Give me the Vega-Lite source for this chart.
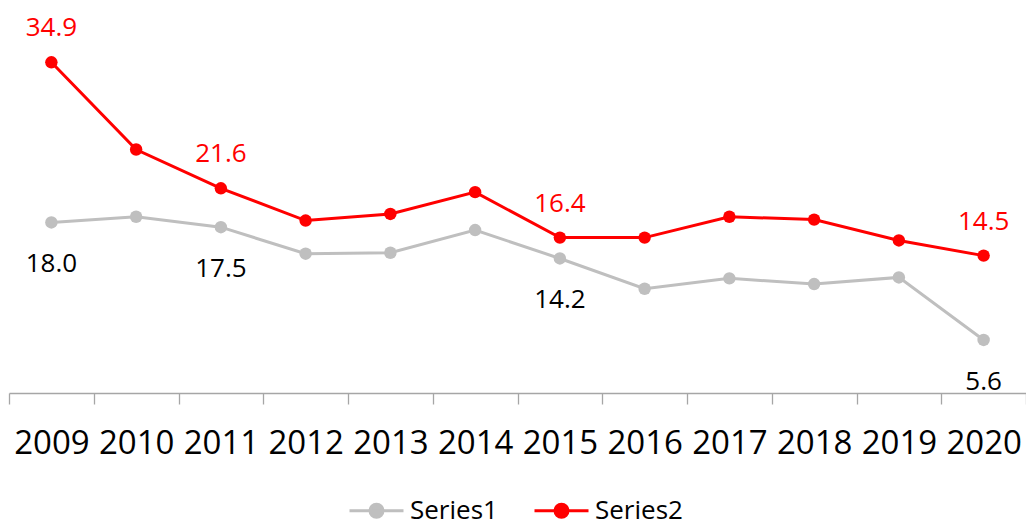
{
  "$schema": "https://vega.github.io/schema/vega-lite/v6.json",
  "width": 1017,
  "height": 379,
  "autosize": {"type": "none"},
  "padding": {"left": 9, "top": 14, "right": 0, "bottom": 133},
  "background": "white",
  "config": {"view": {"stroke": null}, "font": "Open Sans"},
  "data": {"values": [
    {"year": "2009", "series": "Series1", "value": 18.0},
    {"year": "2010", "series": "Series1", "value": 18.6},
    {"year": "2011", "series": "Series1", "value": 17.5},
    {"year": "2012", "series": "Series1", "value": 14.7},
    {"year": "2013", "series": "Series1", "value": 14.8},
    {"year": "2014", "series": "Series1", "value": 17.2},
    {"year": "2015", "series": "Series1", "value": 14.2},
    {"year": "2016", "series": "Series1", "value": 11.0},
    {"year": "2017", "series": "Series1", "value": 12.1},
    {"year": "2018", "series": "Series1", "value": 11.5},
    {"year": "2019", "series": "Series1", "value": 12.2},
    {"year": "2020", "series": "Series1", "value": 5.6},
    {"year": "2009", "series": "Series2", "value": 34.9},
    {"year": "2010", "series": "Series2", "value": 25.7},
    {"year": "2011", "series": "Series2", "value": 21.6},
    {"year": "2012", "series": "Series2", "value": 18.2},
    {"year": "2013", "series": "Series2", "value": 18.9},
    {"year": "2014", "series": "Series2", "value": 21.2},
    {"year": "2015", "series": "Series2", "value": 16.4},
    {"year": "2016", "series": "Series2", "value": 16.4},
    {"year": "2017", "series": "Series2", "value": 18.6},
    {"year": "2018", "series": "Series2", "value": 18.3},
    {"year": "2019", "series": "Series2", "value": 16.1},
    {"year": "2020", "series": "Series2", "value": 14.5}
  ]},
  "encoding": {
    "x": {
      "field": "year", "type": "ordinal",
      "scale": {"type": "band", "paddingInner": 0, "paddingOuter": 0},
      "axis": {
        "title": null, "labelAngle": 0, "labelFontSize": 33, "labelColor": "#000000",
        "labelPadding": 23, "tickSize": 11, "tickBand": "extent",
        "domainColor": "#A6A6A6", "tickColor": "#A6A6A6", "domainWidth": 1.3, "tickWidth": 1.3,
        "grid": false, "labelFont": "Open Sans"
      }
    },
    "y": {
      "field": "value", "type": "quantitative",
      "scale": {"domain": [0, 40], "nice": false, "zero": true},
      "axis": null
    }
  },
  "layer": [
    {
      "mark": {"type": "line", "strokeWidth": 3},
      "encoding": {
        "color": {
          "field": "series", "type": "nominal",
          "scale": {"domain": ["Series1", "Series2"], "range": ["#BFBFBF", "#FF0000"]},
          "legend": {
            "title": null, "orient": "none", "direction": "horizontal",
            "legendX": 339, "legendY": 468,
            "symbolType": "M-1,0H1M-0.24,0A0.24,0.24 0 1,0 0.24,0A0.24,0.24 0 1,0 -0.24,0Z",
            "symbolSize": 2916, "symbolStrokeWidth": 3,
            "labelFontSize": 26, "labelFont": "Open Sans", "labelColor": "#000000",
            "labelOffset": 5, "columnPadding": 30, "padding": 0
          }
        }
      }
    },
    {
      "mark": {"type": "point", "filled": true, "size": 155, "opacity": 1},
      "encoding": {
        "color": {"field": "series", "type": "nominal"}
      }
    },
    {
      "transform": [
        {"filter": "datum.series == 'Series2'"},
        {"filter": {"field": "year", "oneOf": ["2009", "2011", "2015", "2020"]}}
      ],
      "mark": {"type": "text", "fontSize": 26, "font": "Open Sans", "color": "#FF0000", "baseline": "alphabetic", "dy": -26},
      "encoding": {"text": {"field": "value", "type": "quantitative", "format": ".1f"}}
    },
    {
      "transform": [
        {"filter": "datum.series == 'Series1'"},
        {"filter": {"field": "year", "oneOf": ["2009", "2011", "2015", "2020"]}}
      ],
      "mark": {"type": "text", "fontSize": 26, "font": "Open Sans", "color": "#000000", "baseline": "alphabetic", "dy": 50},
      "encoding": {"text": {"field": "value", "type": "quantitative", "format": ".1f"}}
    }
  ]
}
